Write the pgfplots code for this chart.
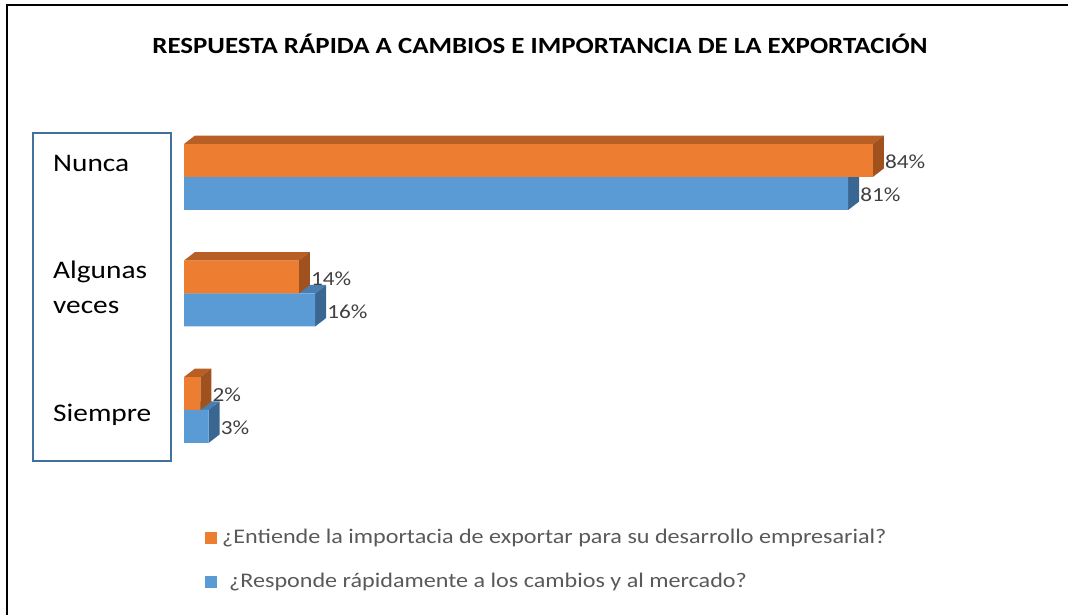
\documentclass[border=0pt]{standalone}
\usepackage{pgfplots}
\pgfplotsset{compat=1.18}
\usepackage{fontspec}
\setmainfont{Carlito}[FakeStretch=1.16]
\definecolor{orF}{HTML}{ED7D31}
\definecolor{orT}{HTML}{B85F26}
\definecolor{orS}{HTML}{A0511E}
\definecolor{blF}{HTML}{5B9BD5}
\definecolor{blT}{HTML}{4A7EB0}
\definecolor{blS}{HTML}{3A6791}
\definecolor{boxc}{HTML}{41719C}
\definecolor{legtxt}{HTML}{595959}
\definecolor{lbltxt}{HTML}{404040}
\begin{document}
\begin{tikzpicture}[x=1pt,y=1pt]
\path[use as bounding box] (0,0) rectangle (1068,615);
\draw[line width=2.2pt,black] (7,0) -- (7,610) -- (1068,610);
\node[font=\bfseries\fontsize{23.2}{27}\selectfont] at (540,571) {RESPUESTA RÁPIDA A CAMBIOS E IMPORTANCIA DE LA EXPORTACIÓN};
\draw[color=boxc, line width=2pt] (33,154) rectangle (171,482);
\begin{scope}[every node/.style={anchor=west, inner sep=0pt, font=\fontsize{25.3}{30}\selectfont}]
\node at (53,452) {Nunca};
\node at (53,343) {Algunas};
\node at (53,308) {veces};
\node at (53,200) {Siempre};
\end{scope}
\begin{axis}[scale only axis, width=820pt, height=349.5pt, at={(184pt,146.75pt)}, anchor=south west,
  xmin=0, xmax=100, ymin=-0.5, ymax=2.5, hide axis, clip=false,
  /pgf/number format/assume math mode=true]
% blue depth faces
\addplot[fill=blT, draw=none] coordinates {(0,2) (81,2) (82.34,2.073) (1.34,2.073)} -- cycle;
\addplot[fill=blS, draw=none] coordinates {(81,1.717) (81,2) (82.34,2.073) (82.34,1.79)} -- cycle;
\addplot[fill=blT, draw=none] coordinates {(0,1) (16,1) (17.34,1.073) (1.34,1.073)} -- cycle;
\addplot[fill=blS, draw=none] coordinates {(16,0.717) (16,1) (17.34,1.073) (17.34,0.79)} -- cycle;
\addplot[fill=blT, draw=none] coordinates {(0,0) (3,0) (4.34,0.073) (1.34,0.073)} -- cycle;
\addplot[fill=blS, draw=none] coordinates {(3,-0.283) (3,0) (4.34,0.073) (4.34,-0.21)} -- cycle;
% blue front
\addplot[xbar, bar width=0.283, bar shift=-0.1415, fill=blF, draw=none,
  point meta=x, nodes near coords={\pgfmathprintnumber{\pgfplotspointmeta}\%},
  every node near coord/.append style={anchor=west, xshift=12pt, yshift=-18pt, inner sep=0pt, text=lbltxt, font=\fontsize{20}{24}\selectfont}]
  coordinates {(81,2) (16,1) (3,0)};
% orange depth faces
\addplot[fill=orT, draw=none] coordinates {(0,2.283) (84,2.283) (85.34,2.356) (1.34,2.356)} -- cycle;
\addplot[fill=orS, draw=none] coordinates {(84,2) (84,2.283) (85.34,2.356) (85.34,2.073)} -- cycle;
\addplot[fill=orT, draw=none] coordinates {(0,1.283) (14,1.283) (15.34,1.356) (1.34,1.356)} -- cycle;
\addplot[fill=orS, draw=none] coordinates {(14,1) (14,1.283) (15.34,1.356) (15.34,1.073)} -- cycle;
\addplot[fill=orT, draw=none] coordinates {(0,0.283) (2,0.283) (3.34,0.356) (1.34,0.356)} -- cycle;
\addplot[fill=orS, draw=none] coordinates {(2,0) (2,0.283) (3.34,0.356) (3.34,0.073)} -- cycle;
% orange front
\addplot[xbar, bar width=0.283, bar shift=0.1415, fill=orF, draw=none,
  point meta=x, nodes near coords={\pgfmathprintnumber{\pgfplotspointmeta}\%},
  every node near coord/.append style={anchor=west, xshift=12pt, yshift=15pt, inner sep=0pt, text=lbltxt, font=\fontsize{20}{24}\selectfont}]
  coordinates {(84,2) (14,1) (2,0)};
\end{axis}
\fill[orF] (205,71) rectangle (217,83);
\node[anchor=west, inner sep=0pt, text=legtxt, font=\fontsize{20.8}{25}\selectfont] at (222,77) {¿Entiende la importacia de exportar para su desarrollo empresarial?};
\fill[blF] (205,27) rectangle (217,39);
\node[anchor=west, inner sep=0pt, text=legtxt, font=\fontsize{20.8}{25}\selectfont] at (229,33) {¿Responde rápidamente a los cambios y al mercado?};
\end{tikzpicture}
\end{document}
